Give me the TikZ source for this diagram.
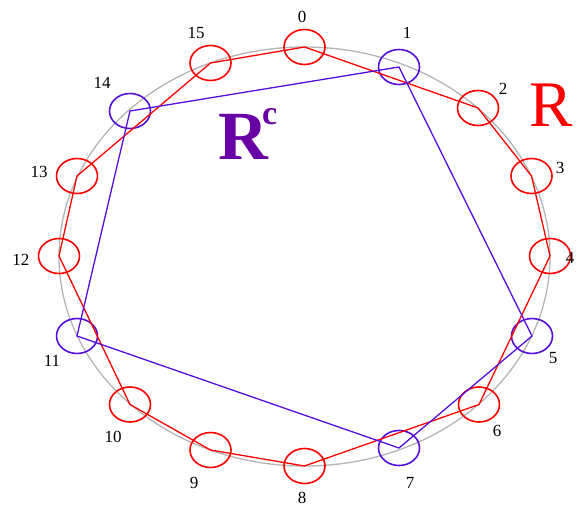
\documentclass[tikz,border=0pt]{standalone}
\usepackage{fontspec}
\setmainfont{Liberation Serif}
\usetikzlibrary{shapes.geometric}
\definecolor{setred}{RGB}{255,0,0}
\definecolor{setblue}{RGB}{85,15,220}
\definecolor{setpurple}{RGB}{105,0,165}
\definecolor{ringgrey}{RGB}{180,180,180}

\begin{document}
\begin{tikzpicture}[
    x=1pt, y=-1pt,
    pt/.style={ellipse, draw, line width=1.6pt, minimum width=41pt, minimum height=35pt, inner sep=0pt},
    inR/.style={pt, setred},
    outR/.style={pt, setblue},
    num/.style={font=\fontsize{17}{17}\selectfont, inner sep=0pt},
    chord/.style={line width=1.3pt, line join=miter},
  ]
  \useasboundingbox (0,0) rectangle (577,508);
  % the ring
  \draw[ringgrey, line width=1.3pt] (304.5,256.5) ellipse [x radius=245.5pt, y radius=209.5pt];

  % the sixteen points
  \node[inR]  (p0)  at (304.5,47)  {};
  \node[outR] (p1)  at (399,67)    {};
  \node[inR]  (p2)  at (478,108)   {};
  \node[inR]  (p3)  at (531.5,176) {};
  \node[inR]  (p4)  at (550,256)   {};
  \node[outR] (p5)  at (532,336)   {};
  \node[inR]  (p6)  at (479,404.5) {};
  \node[outR] (p7)  at (399,448)   {};
  \node[inR]  (p8)  at (304.5,466) {};
  \node[inR]  (p9)  at (210.5,450) {};
  \node[inR]  (p10) at (130,404.5) {};
  \node[outR] (p11) at (77,336)    {};
  \node[inR]  (p12) at (59,256)    {};
  \node[inR]  (p13) at (77,176)    {};
  \node[outR] (p14) at (130,111)   {};
  \node[inR]  (p15) at (210.5,63)  {};

  % labels
  \node[num] (l0)  at (302,17)  {0};
  \node[num] (l1)  at (407,33)  {1};
  \node[num] (l2)  at (503,89)  {2};
  \node[num] (l3)  at (560,168) {3};
  \node[num] (l4)  at (570,258) {4};
  \node[num] (l5)  at (553,358) {5};
  \node[num] (l6)  at (497,431) {6};
  \node[num] (l7)  at (410,483) {7};
  \node[num] (l8)  at (302,498) {8};
  \node[num] (l9)  at (194,483) {9};
  \node[num] (l10) at (113,437) {10};
  \node[num] (l11) at (52,361)  {11};
  \node[num] (l12) at (21,260)  {12};
  \node[num] (l13) at (39,172)  {13};
  \node[num] (l14) at (102,83)  {14};
  \node[num] (l15) at (196,33)  {15};

  % R and its complement
  \draw[chord, setred] (p0.center) -- (p2.center) -- (p3.center) -- (p4.center)
    -- (p6.center) -- (p8.center) -- (p9.center) -- (p10.center) -- (p12.center)
    -- (p13.center) -- (p15.center) -- cycle;
  \draw[chord, setblue] (p1.center) -- (p5.center) -- (p7.center) -- (p11.center)
    -- (p14.center) -- cycle;

  \node[setred, anchor=base west, inner sep=0pt, font=\fontsize{65}{65}\selectfont] (rname) at (529,126) {R};
  \node[setpurple, anchor=base west, inner sep=0pt, font=\fontsize{69}{69}\selectfont\bfseries] (rcname) at (218,159)
    {R\kern-6pt\raisebox{35pt}{\fontsize{34}{34}\selectfont c}};
\end{tikzpicture}
\end{document}
